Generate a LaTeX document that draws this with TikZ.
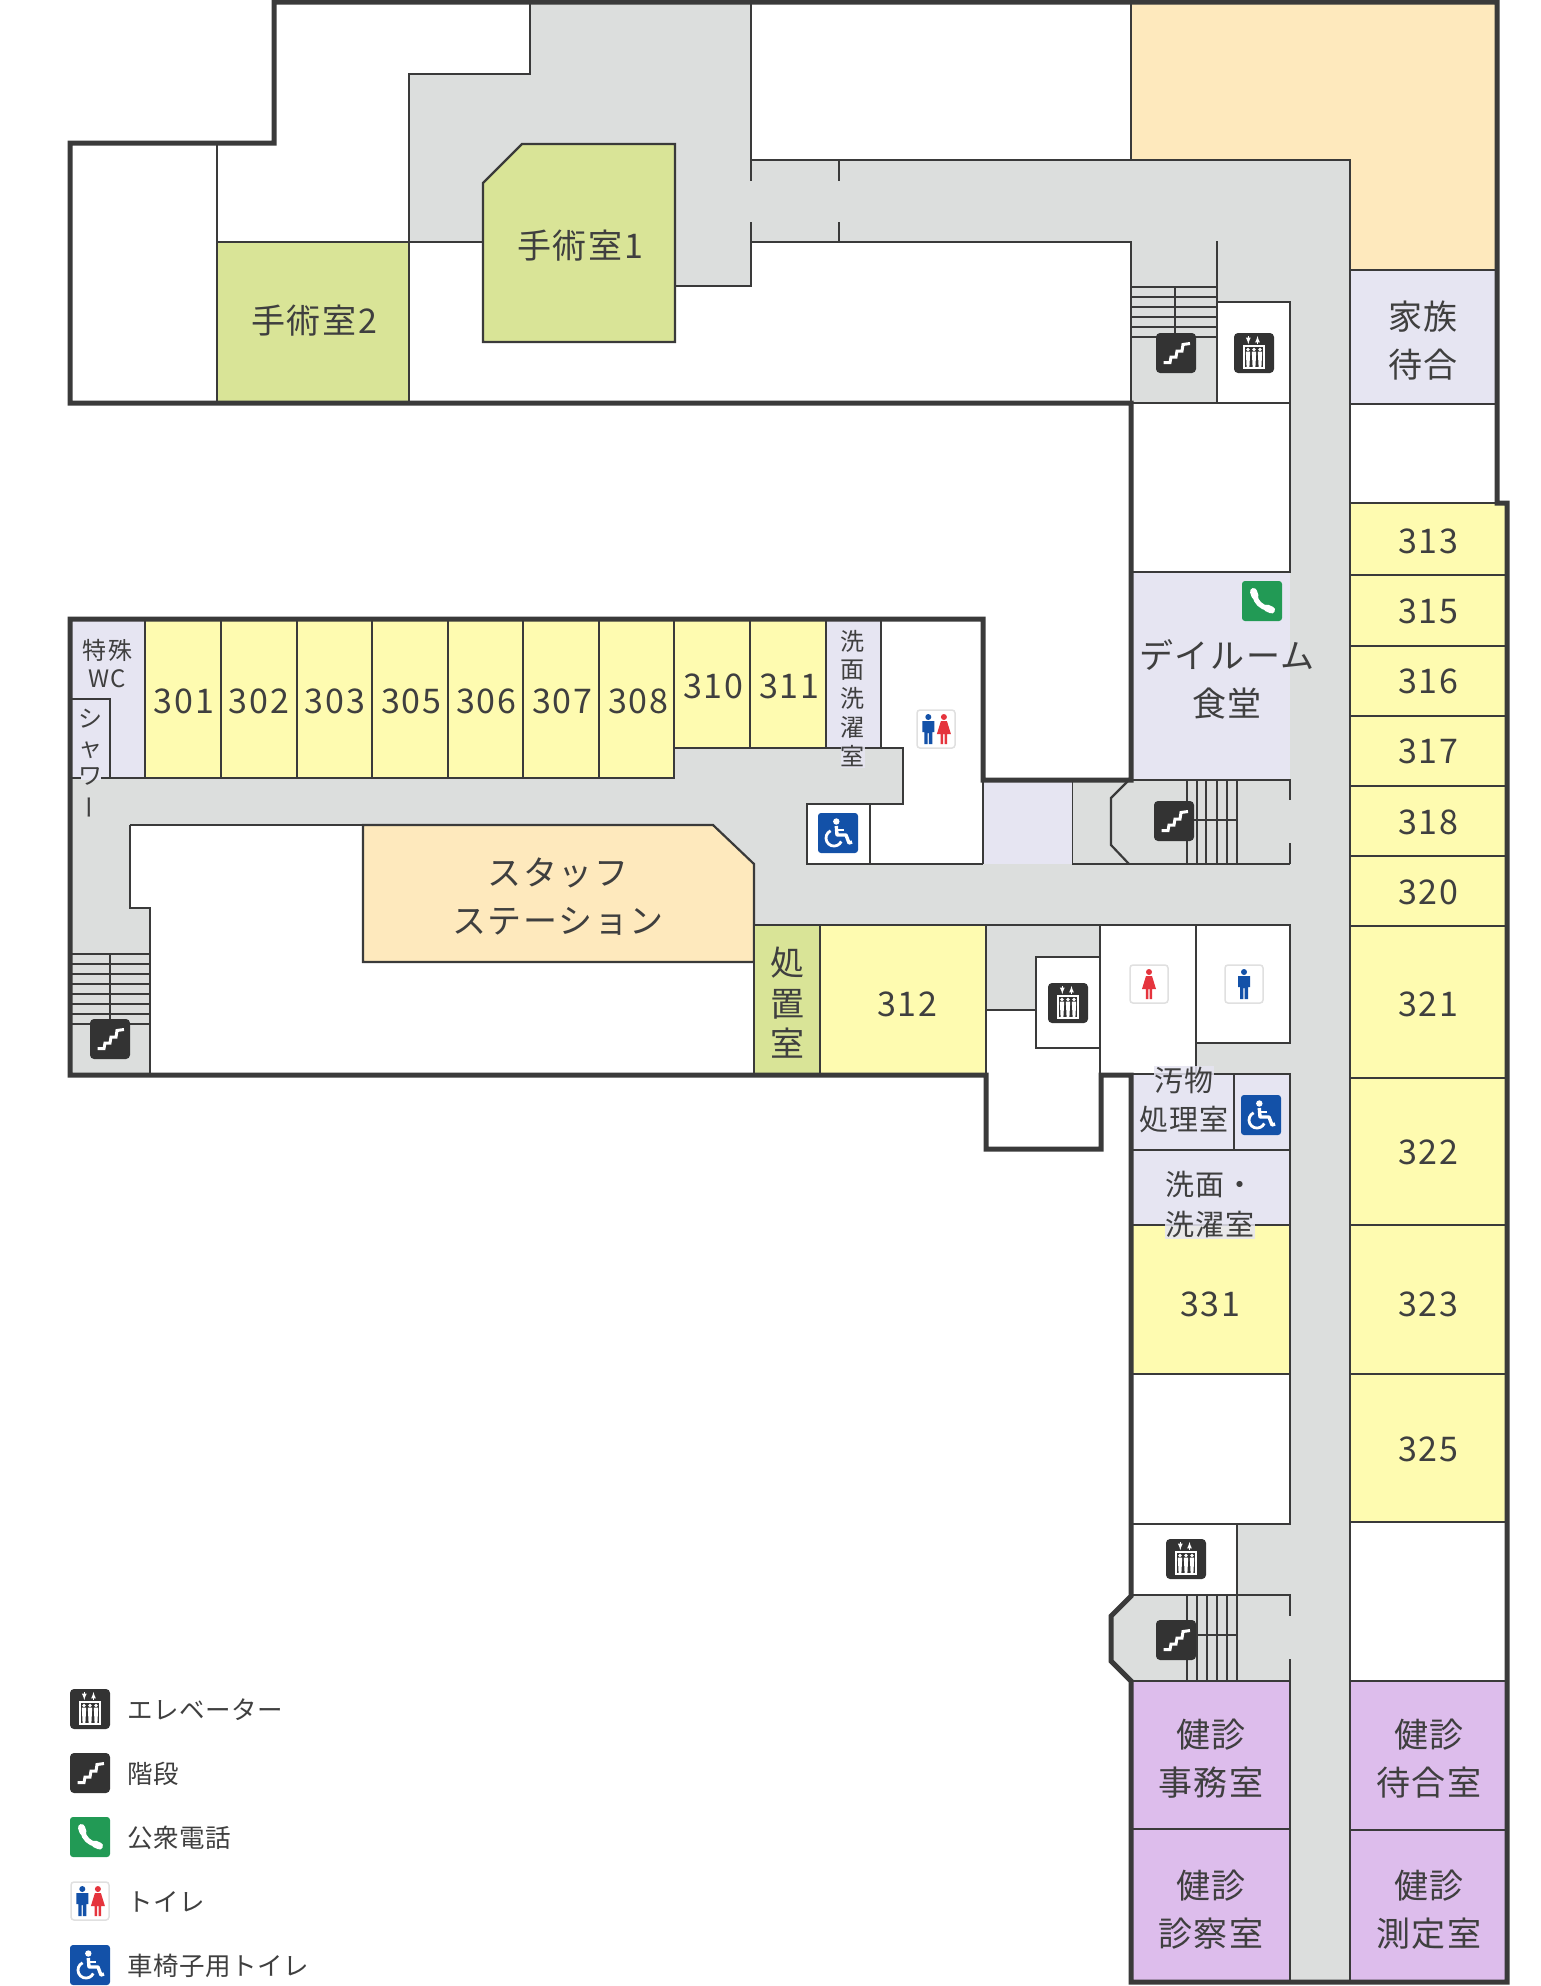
\documentclass[tikz,border=0pt]{standalone}
\usepackage{fontspec}
\setmainfont{Noto Sans CJK JP}
\newfontfamily\roomfont[LetterSpace=5]{Noto Sans CJK JP}
\newfontfamily\legendfont[LetterSpace=2]{Noto Sans CJK JP}
\usepackage{tikz}

\definecolor{corridor}{HTML}{DCDEDD}
\definecolor{wardyellow}{HTML}{FEFBB0}
\definecolor{opgreen}{HTML}{D9E497}
\definecolor{stafforange}{HTML}{FEE9BD}
\definecolor{publiclav}{HTML}{E6E5F2}
\definecolor{checkpurple}{HTML}{DDBDEC}
\definecolor{wallgray}{HTML}{3A3A3A}
\definecolor{icondark}{HTML}{333333}
\definecolor{phonegreen}{HTML}{229A55}
\definecolor{wcblue}{HTML}{1351A8}
\definecolor{wcred}{HTML}{E5343D}
\definecolor{textgray}{HTML}{3F3F3F}

\tikzset{
  wall/.style={line width=5pt, color=wallgray, line join=miter},
  partition/.style={line width=2.2pt, color=wallgray},
  biglabel/.style={font=\roomfont\fontsize{34}{34}\selectfont, color=textgray, inner sep=0pt, text height=30pt, text depth=4pt, xshift=1pt},
  midlabel/.style={font=\roomfont\fontsize{29}{29}\selectfont, color=textgray, inner sep=0pt, text height=25.5pt, text depth=3.5pt, xshift=1pt},
  smalllabel/.style={font=\roomfont\fontsize{24}{24}\selectfont, color=textgray, inner sep=0pt, text height=21pt, text depth=3pt, xshift=0.5pt},
  legendlabel/.style={font=\legendfont\fontsize{25.5}{25.5}\selectfont, color=textgray, inner sep=0pt, text height=22.5pt, text depth=3pt, anchor=west},
  halo/.style={fill=publiclav, fill opacity=0.85, text opacity=1},
  manshape/.pic={
    \fill [wcblue] (0,-12) circle [radius=3];
    \fill [wcblue] (-6,-8) -- (6,-8) -- (6,3) -- (4,3) -- (4,15) -- (0.6,15) -- (0.6,4)
      -- (-0.6,4) -- (-0.6,15) -- (-4,15) -- (-4,3) -- (-6,3) -- cycle;
  },
  womanshape/.pic={
    \fill [wcred] (0,-12) circle [radius=3];
    \fill [wcred] (-3,-8) -- (3,-8) -- (7,5) -- (3.2,5) -- (3.2,15) -- (0.7,15) -- (0.7,5)
      -- (-0.7,5) -- (-0.7,15) -- (-3.2,15) -- (-3.2,5) -- (-7,5) -- cycle;
  },
  evicon/.pic={
    \fill [icondark, rounded corners=4pt] (-20,-20) rectangle (20,20);
    \draw [white, line width=1.1pt] (-10,-7) rectangle (10,15);
    \draw [white, line width=1.2pt, ->, >=latex] (-5.7,-17) -- (-5.7,-9);
    \draw [white, line width=1.2pt, ->, >=latex] (3.5,-9) -- (3.5,-17);
    \fill [white] (-6,-3.5) circle [radius=1.8];
    \fill [white] (0,-3.5) circle [radius=1.8];
    \fill [white] (6,-3.5) circle [radius=1.8];
    \fill [white] (-8.2,-1.5) -- (-3.8,-1.5) -- (-4.6,14) -- (-7.4,14) -- cycle;
    \fill [white] (-2.2,-1.5) -- (2.2,-1.5) -- (1.4,14) -- (-1.4,14) -- cycle;
    \fill [white] (3.8,-1.5) -- (8.2,-1.5) -- (7.4,14) -- (4.6,14) -- cycle;
  },
  stairicon/.pic={
    \fill [icondark, rounded corners=4pt] (-20,-20) rectangle (20,20);
    \draw [white, line width=3pt, line join=miter] (-12.5,9.5) -- (-6,9.5) -- (-5,4) -- (0,4)
      -- (1,-2) -- (6,-2) -- (7,-8.5) -- (14,-9.5);
  },
  phoneicon/.pic={
    \fill [phonegreen, rounded corners=3pt] (-20,-20) rectangle (20,20);
    \draw [white, line width=5pt] (-7,-5) .. controls (-6,1) and (-1,6) .. (6,7.5);
    \draw [white, line width=7pt, line cap=round] (-8.5,-9.5) -- (-7,-5);
    \draw [white, line width=7pt, line cap=round] (5,7) -- (9.5,9);
  },
  wcicon/.pic={
    \draw [fill=white, draw=black!12, line width=1.5pt, rounded corners=3pt] (-19,-19) rectangle (19,19);
    \pic at (-7.7,0) {manshape};
    \pic at (7.9,0) {womanshape};
  },
  wcmanicon/.pic={
    \draw [fill=white, draw=black!12, line width=1.5pt, rounded corners=3pt] (-19,-19) rectangle (19,19);
    \pic at (0,0) {manshape};
  },
  wcwomanicon/.pic={
    \draw [fill=white, draw=black!12, line width=1.5pt, rounded corners=3pt] (-19,-19) rectangle (19,19);
    \pic at (0,0) {womanshape};
  },
  wheelicon/.pic={
    \fill [wcblue, rounded corners=3pt] (-20,-20) rectangle (20,20);
    \fill [white] (-1.7,-11.5) circle [radius=3.2];
    \draw [white, line width=3.4pt, line join=round] (-1.7,-7) -- (-1,2) -- (8,2) -- (11,10) -- (14,9);
    \draw [white, line width=2pt] (-1.5,-3) -- (6,-3);
    \draw [white, line width=2.8pt] (-7.4,-2.2) arc [start angle=245, end angle=25, radius=8];
  },
}

\begin{document}
\begin{tikzpicture}[x=1pt, y=-1pt]
    \useasboundingbox (0,0) rectangle (1540,1986);

    % corridors
    \fill [corridor] (530,2) -- (751,2) -- (751,286) -- (600,286) -- (600,242) -- (409,242) -- (409,74) -- (530,74) -- cycle;
    \fill [corridor] (751,160) -- (1350,160) -- (1350,1982) -- (1290,1982) -- (1290,403) -- (1131,403) -- (1131,242) -- (751,242) -- cycle;
    \fill [corridor] (70,778) -- (674,778) -- (674,748) -- (903,748) -- (903,804) -- (807,804) -- (807,864) -- (1290,864) -- (1290,925)
      -- (754,925) -- (754,864) -- (713,825) -- (130,825) -- (130,908) -- (150,908) -- (150,1075) -- (70,1075) -- cycle;
    \fill [corridor] (986,925) rectangle (1100,1010);
    \fill [corridor] (1072,780) rectangle (1290,864);
    \fill [corridor] (1196,1043) rectangle (1290,1074);
    \fill [corridor] (1237,1524) rectangle (1290,1595);
    \fill [corridor] (1131,1596) -- (1290,1596) -- (1290,1681) -- (1131,1681) -- (1111,1661) -- (1111,1616) -- cycle;

    % corridor edges
    \draw [partition] (483,242) -- (409,242) -- (409,74) -- (530,74) -- (530,2);
    \draw [partition] (751,2) -- (751,181);
    \draw [partition] (751,222) -- (751,286) -- (675,286);
    \draw [partition] (751,160) -- (1350,160) -- (1350,1982);
    \draw [partition] (751,242) -- (1131,242) -- (1131,403);
    \draw [partition] (839,160) -- (839,181);
    \draw [partition] (839,222) -- (839,242);
    \draw [partition] (1217,241) -- (1217,403) -- (1131,403);
    \draw [partition] (130,825) -- (364,825);
    \draw [partition] (130,825) -- (130,908) -- (150,908) -- (150,1075);
    \draw [partition] (217,143) -- (217,403);
    \draw [partition] (986,1010) -- (1036,1010);
    \draw [partition] (1072,864) -- (1290,864);
    \draw [partition] (1072,780) -- (1072,864);
    \draw [partition] (1072,780) -- (1290,780) -- (1290,800);
    \draw [partition] (1290,843) -- (1290,864);
    \draw [partition] (1129,780) -- (1111,798) -- (1111,845) -- (1129,864);
    \draw [partition] (1131,1595) -- (1290,1595) -- (1290,1616);
    \draw [partition] (1290,1659) -- (1290,1681);

    % stairs
    \draw [partition, line width=1.8pt] (1131,287) -- (1217,287) (1131,297) -- (1217,297) (1131,307) -- (1217,307)
      (1131,317) -- (1217,317) (1131,327) -- (1217,327) (1131,337) -- (1217,337) (1175,287) -- (1175,337);
    \draw [partition, line width=1.8pt] (70,954) -- (150,954) (70,964) -- (150,964) (70,974) -- (150,974) (70,984) -- (150,984)
      (70,994) -- (150,994) (70,1004) -- (150,1004) (70,1014) -- (150,1014) (70,1024) -- (150,1024) (110,954) -- (110,1030);
    \draw [partition, line width=1.8pt] (1187,780) -- (1187,864) (1197,780) -- (1197,864) (1206,780) -- (1206,864)
      (1217,780) -- (1217,864) (1227,780) -- (1227,864) (1237,780) -- (1237,864) (1187,820) -- (1237,820);
    \draw [partition, line width=1.8pt] (1187,1595) -- (1187,1681) (1197,1595) -- (1197,1681) (1207,1595) -- (1207,1681)
      (1217,1595) -- (1217,1681) (1227,1595) -- (1227,1681) (1237,1595) -- (1237,1681) (1197,1635) -- (1237,1635);

    % rooms on the north side
    \draw [partition, fill=stafforange] (1131,2) -- (1497,2) -- (1497,270) -- (1350,270) -- (1350,160) -- (1131,160) -- cycle;
    \draw [partition, fill=publiclav] (1350,270) rectangle (1497,404);
    \draw [partition, fill=white] (1217,302) rectangle (1290,403);
    \draw [partition, fill=opgreen] (217,242) rectangle (409,403);
    \draw [partition, fill=opgreen] (522,144) -- (675,144) -- (675,342) -- (483,342) -- (483,183) -- cycle;
    \draw [partition, fill=white] (1131,403) rectangle (1290,572);

    % west wing rooms
    \draw [partition, fill=publiclav] (70,619) rectangle (145,778);
    \draw [partition, fill=publiclav] (70,699) rectangle (110,778);
    \draw [partition, fill=wardyellow] (145,619) rectangle (221,778);
    \draw [partition, fill=wardyellow] (221,619) rectangle (297,778);
    \draw [partition, fill=wardyellow] (297,619) rectangle (372,778);
    \draw [partition, fill=wardyellow] (372,619) rectangle (448,778);
    \draw [partition, fill=wardyellow] (448,619) rectangle (523,778);
    \draw [partition, fill=wardyellow] (523,619) rectangle (599,778);
    \draw [partition, fill=wardyellow] (599,619) rectangle (674,778);
    \draw [partition, fill=wardyellow] (674,619) rectangle (750,748);
    \draw [partition, fill=wardyellow] (750,619) rectangle (826,748);
    \draw [partition, fill=publiclav] (826,619) rectangle (881,748);
    \draw [partition] (881,748) -- (903,748) -- (903,804) -- (870,804) -- (870,864) -- (983,864);
    \draw [partition, fill=white] (807,804) rectangle (870,864);
    \fill [publiclav] (983,780) rectangle (1072,864);
    \draw [partition] (983,780) -- (983,864);
    \draw [partition, fill=stafforange] (363,825) -- (713,825) -- (754,864) -- (754,962) -- (363,962) -- cycle;
    \draw [partition, fill=opgreen] (754,925) rectangle (820,1075);
    \draw [partition, fill=wardyellow] (820,925) rectangle (986,1075);
    \draw [partition] (986,925) -- (1100,925);
    \draw [partition, fill=white] (1036,957) rectangle (1100,1048);
    \draw [partition, fill=white] (1100,925) rectangle (1196,1074);
    \draw [partition, fill=white] (1196,925) rectangle (1290,1043);

    % day room and central rooms
    \fill [publiclav] (1131,572) rectangle (1290,780);
    \draw [partition] (1131,572) -- (1290,572);
    \draw [partition] (1072,780) -- (1290,780);
    \draw [partition, fill=publiclav] (1131,1074) rectangle (1234,1150);
    \draw [partition, fill=publiclav] (1234,1074) rectangle (1290,1150);
    \draw [partition, fill=publiclav] (1131,1150) rectangle (1290,1225);
    \draw [partition, fill=wardyellow] (1131,1225) rectangle (1290,1374);
    \draw [partition, fill=white] (1131,1374) rectangle (1290,1524);
    \draw [partition, fill=white] (1131,1524) rectangle (1237,1595);
    \draw [partition, fill=checkpurple] (1131,1681) rectangle (1290,1829);
    \draw [partition, fill=checkpurple] (1131,1829) rectangle (1290,1982);

    % east side rooms
    \draw [partition, fill=white] (1350,404) rectangle (1497,503);
    \draw [partition, fill=wardyellow] (1350,503) rectangle (1507,575);
    \draw [partition, fill=wardyellow] (1350,575) rectangle (1507,646);
    \draw [partition, fill=wardyellow] (1350,646) rectangle (1507,716);
    \draw [partition, fill=wardyellow] (1350,716) rectangle (1507,786);
    \draw [partition, fill=wardyellow] (1350,786) rectangle (1507,856);
    \draw [partition, fill=wardyellow] (1350,856) rectangle (1507,926);
    \draw [partition, fill=wardyellow] (1350,926) rectangle (1507,1078);
    \draw [partition, fill=wardyellow] (1350,1078) rectangle (1507,1225);
    \draw [partition, fill=wardyellow] (1350,1225) rectangle (1507,1374);
    \draw [partition, fill=wardyellow] (1350,1374) rectangle (1507,1522);
    \draw [partition, fill=white] (1350,1522) rectangle (1507,1681);
    \draw [partition, fill=checkpurple] (1350,1681) rectangle (1507,1830);
    \draw [partition, fill=checkpurple] (1350,1830) rectangle (1507,1982);

    % outer walls
    \draw [wall] (70,143) -- (274,143) -- (274,2) -- (1497,2) -- (1497,503) -- (1507,503) -- (1507,1982) -- (1131,1982)
      -- (1131,1681) -- (1111,1661) -- (1111,1616) -- (1131,1596) -- (1131,1075) -- (1101,1075) -- (1101,1149) -- (986,1149)
      -- (986,1075) -- (70,1075) -- (70,619) -- (983,619) -- (983,780) -- (1131,780) -- (1131,403) -- (70,403) -- cycle;

    % gap in the wall under the text
    \fill [publiclav] (81,776) rectangle (101,780);

    % labels
    \node [biglabel] (op1) at (579,245){手術室1};
    \node [biglabel] (op2) at (313,320){手術室2};
    \node [biglabel] (family1) at (1422,316){家族};
    \node [biglabel] (family2) at (1422,364){待合};
    \node [biglabel] (staff1) at (557,872){スタッフ};
    \node [biglabel] (staff2) at (557,920){ステーション};
    \node [biglabel] (day1) at (1226,655){デイルーム};
    \node [biglabel] (day2) at (1226,703){食堂};

    \node [biglabel] (r301) at (183,700){301};
    \node [biglabel] (r302) at (258,700){302};
    \node [biglabel] (r303) at (334,700){303};
    \node [biglabel] (r305) at (410,700){305};
    \node [biglabel] (r306) at (485,700){306};
    \node [biglabel] (r307) at (561,700){307};
    \node [biglabel] (r308) at (637,700){308};
    \node [biglabel] (r310) at (712,685){310};
    \node [biglabel] (r311) at (788,685){311};
    \node [biglabel] (r312) at (906,1003){312};
    \node [biglabel] (r331) at (1209,1303){331};
    \node [biglabel] (r313) at (1427,540){313};
    \node [biglabel] (r315) at (1427,610){315};
    \node [biglabel] (r316) at (1427,680){316};
    \node [biglabel] (r317) at (1427,750){317};
    \node [biglabel] (r318) at (1427,821){318};
    \node [biglabel] (r320) at (1427,891){320};
    \node [biglabel] (r321) at (1427,1003){321};
    \node [biglabel] (r322) at (1427,1151){322};
    \node [biglabel] (r323) at (1427,1303){323};
    \node [biglabel] (r325) at (1427,1448){325};

    \node [biglabel] (treat1) at (786,962){処};
    \node [biglabel] (treat2) at (786,1003){置};
    \node [biglabel] (treat3) at (786,1043){室};

    \node [smalllabel] (wc1) at (107,650){特殊};
    \node [smalllabel] (wc2) at (107,678){WC};
    \node [smalllabel] (shower1) at (90,718){シ};
    \node [smalllabel] (shower2) at (90,747){ャ};
    \node [smalllabel] (shower3) at (90,775){ワ};
    \node [smalllabel, rotate=90] (shower4) at (89,807){ー};

    \node [smalllabel] (wash1) at (852,641){洗};
    \node [smalllabel] (wash2) at (852,669){面};
    \node [smalllabel] (wash3) at (852,698){洗};
    \node [smalllabel] (wash4) at (852,727){濯};
    \node [smalllabel, halo] (wash5) at (852,756){室};

    \node [midlabel, halo] (soil1) at (1183,1080){汚物};
    \node [midlabel] (soil2) at (1183,1119){処理室};
    \node [midlabel] (basin1) at (1209,1184){洗面・};
    \node [midlabel, halo] (basin2) at (1209,1224){洗濯室};

    \node [biglabel] (check1) at (1210,1734){健診};
    \node [biglabel] (check2) at (1210,1782){事務室};
    \node [biglabel] (check3) at (1210,1885){健診};
    \node [biglabel] (check4) at (1210,1933){診察室};
    \node [biglabel] (check5) at (1428,1734){健診};
    \node [biglabel] (check6) at (1428,1782){待合室};
    \node [biglabel] (check7) at (1428,1885){健診};
    \node [biglabel] (check8) at (1428,1933){測定室};

    % icons on the plan
    \pic at (1176,353) {stairicon};
    \pic at (1254,353) {evicon};
    \pic at (110,1039) {stairicon};
    \pic at (1174,821) {stairicon};
    \pic at (1176,1640) {stairicon};
    \pic at (1068,1003) {evicon};
    \pic at (1186,1559) {evicon};
    \pic at (1262,601) {phoneicon};
    \pic at (936,729) {wcicon};
    \pic at (838,833) {wheelicon};
    \pic at (1261,1115) {wheelicon};
    \pic at (1149,984) {wcwomanicon};
    \pic at (1244,984) {wcmanicon};

    % legend
    \pic at (90,1709) {evicon};
    \pic at (90,1773) {stairicon};
    \pic at (90,1837) {phoneicon};
    \pic at (90,1901) {wcicon};
    \pic at (90,1965) {wheelicon};
    \node [legendlabel] (legend1) at (127,1710){エレベーター};
    \node [legendlabel] (legend2) at (127,1774){階段};
    \node [legendlabel] (legend3) at (127,1838){公衆電話};
    \node [legendlabel] (legend4) at (127,1902){トイレ};
    \node [legendlabel] (legend5) at (127,1966){車椅子用トイレ};

\end{tikzpicture}
\end{document}
